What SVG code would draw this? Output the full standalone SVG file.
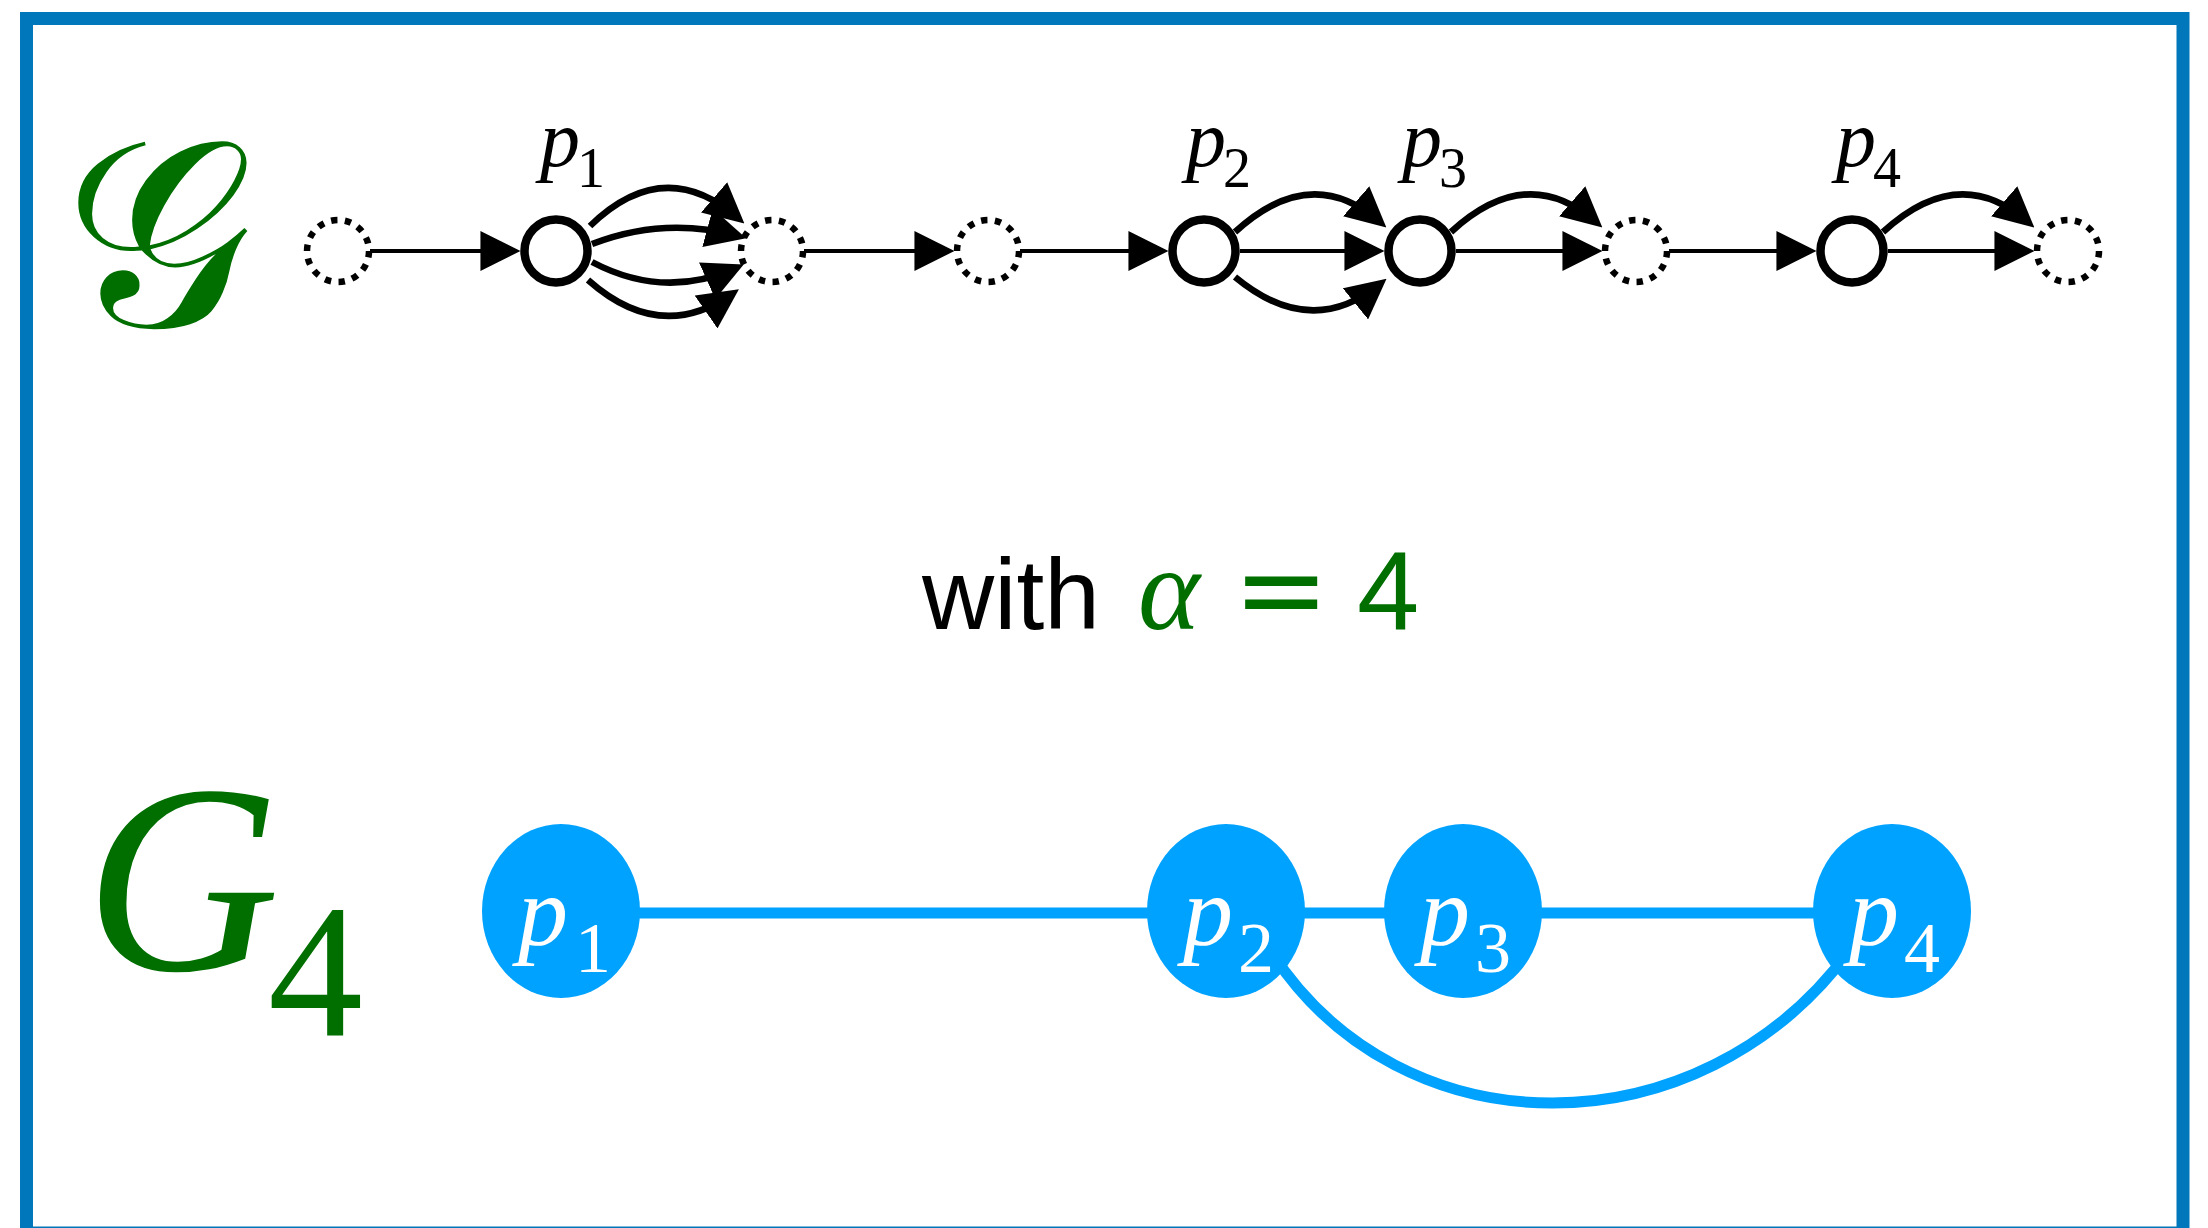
<svg xmlns="http://www.w3.org/2000/svg" width="2208" height="1228" viewBox="0 0 2208 1228">
<defs>
<marker id="ah" markerUnits="userSpaceOnUse" markerWidth="40" markerHeight="40" viewBox="0 0 38 38" refX="30" refY="19" orient="auto">
<path d="M0,0 L38,19 L0,38 z" fill="#000"/>
</marker>
</defs>
<style>
.frame{fill:none;stroke:#0077bb;stroke-width:13}
.dot{fill:none;stroke:#000;stroke-width:6.5;stroke-dasharray:4.6 5.4}
.sol{fill:none;stroke:#000;stroke-width:8.5}
.st{fill:none;stroke:#000;stroke-width:4;marker-end:url(#ah)}
.cv{fill:none;stroke:#000;stroke-width:6.5;marker-end:url(#ah)}
.ue{fill:none;stroke:#00a2ff;stroke-width:11}
.bn{fill:#00a2ff}
.ti{font-family:"Liberation Serif",serif;font-style:italic;fill:#000}
.tn{font-family:"Liberation Serif",serif;fill:#000}
.wi{font-family:"Liberation Serif",serif;font-style:italic;fill:#fff}
.wn{font-family:"Liberation Serif",serif;fill:#fff}
.gr{fill:#006f00}
</style>
<rect class="frame" x="26.5" y="18.5" width="2156.5" height="1214.5"/>
<text id="calG" x="64" y="326" class="gr" style="font-family:'DejaVu Serif','DejaVu Sans',serif;font-size:265px">𝒢</text>
<g id="connectors">
<line class="st" x1="370" y1="251" x2="512" y2="251"/>
<path class="cv" d="M590,226 Q664,154 738,218"/>
<path class="cv" d="M592,244 Q664,216 738,236"/>
<path class="cv" d="M592,262 Q664,300 736,268"/>
<path class="cv" d="M588,280 Q660,344 732,294"/>
<line class="st" x1="804" y1="251" x2="946" y2="251"/>
<line class="st" x1="1020" y1="251" x2="1160" y2="251"/>
<line class="st" x1="1240" y1="251" x2="1376" y2="251"/>
<path class="cv" d="M1235,232 Q1311,162 1380,222"/>
<path class="cv" d="M1235,277 Q1311,340 1380,284"/>
<line class="st" x1="1456" y1="251" x2="1594" y2="251"/>
<path class="cv" d="M1451,232 Q1527,162 1596,222"/>
<line class="st" x1="1669" y1="251" x2="1808" y2="251"/>
<line class="st" x1="1888" y1="251" x2="2026" y2="251"/>
<path class="cv" d="M1883,232 Q1959,162 2028,222"/>
<line class="ue" x1="560" y1="913" x2="1891" y2="913"/>
<path class="ue" d="M1270,950 C1400,1154 1700,1154 1850,950"/>
</g>
<g id="d1"><circle class="dot" cx="338" cy="251" r="31" pathLength="140"/></g>
<g id="p1"><circle class="sol" cx="556" cy="251" r="31.5"/><text class="ti" x="540" y="166" font-size="80">p<tspan class="tn" x="577" y="187" font-size="56" font-style="normal">1</tspan></text></g>
<g id="d2"><circle class="dot" cx="772" cy="251" r="31" pathLength="140"/></g>
<g id="d3"><circle class="dot" cx="988" cy="251" r="31" pathLength="140"/></g>
<g id="p2"><circle class="sol" cx="1204" cy="251" r="31.5"/><text class="ti" x="1186" y="166" font-size="80">p<tspan class="tn" x="1223" y="187" font-size="56" font-style="normal">2</tspan></text></g>
<g id="p3"><circle class="sol" cx="1420" cy="251" r="31.5"/><text class="ti" x="1402" y="166" font-size="80">p<tspan class="tn" x="1439" y="187" font-size="56" font-style="normal">3</tspan></text></g>
<g id="d4"><circle class="dot" cx="1636" cy="251" r="31" pathLength="140"/></g>
<g id="p4"><circle class="sol" cx="1852" cy="251" r="31.5"/><text class="ti" x="1836" y="166" font-size="80">p<tspan class="tn" x="1873" y="187" font-size="56" font-style="normal">4</tspan></text></g>
<g id="d5"><circle class="dot" cx="2068" cy="251" r="31" pathLength="140"/></g>
<g id="caption">
<text x="922" y="629" style="font-family:'Liberation Sans',sans-serif;font-size:100px" fill="#000">with</text>
<text x="1138" y="629" class="gr" style="font-family:'Liberation Serif',serif;font-style:italic;font-size:118px">α</text>
<text x="1233" y="629" class="gr" style="font-family:'DejaVu Sans',sans-serif;font-size:115px">=</text>
<text x="1357" y="629" class="gr" style="font-family:'Liberation Sans',sans-serif;font-size:112px">4</text>
</g>
<g id="G4label">
<text x="85" y="970" class="gr" style="font-family:'Liberation Serif',serif;font-style:italic;font-size:270px">G</text>
<text x="268" y="1036" class="gr" style="font-family:'Liberation Serif',serif;font-size:190px">4</text>
</g>
<g id="q1"><ellipse class="bn" cx="561" cy="911" rx="79" ry="87"/><text class="wi" x="518" y="945" font-size="100">p<tspan class="wn" x="575" y="972" font-size="72" font-style="normal">1</tspan></text></g>
<g id="q2"><ellipse class="bn" cx="1226" cy="911" rx="79" ry="87"/><text class="wi" x="1183" y="945" font-size="100">p<tspan class="wn" x="1238" y="972" font-size="72" font-style="normal">2</tspan></text></g>
<g id="q3"><ellipse class="bn" cx="1463" cy="911" rx="79" ry="87"/><text class="wi" x="1420" y="945" font-size="100">p<tspan class="wn" x="1475" y="972" font-size="72" font-style="normal">3</tspan></text></g>
<g id="q4"><ellipse class="bn" cx="1892" cy="911" rx="79" ry="87"/><text class="wi" x="1849" y="945" font-size="100">p<tspan class="wn" x="1904" y="972" font-size="72" font-style="normal">4</tspan></text></g>
</svg>
